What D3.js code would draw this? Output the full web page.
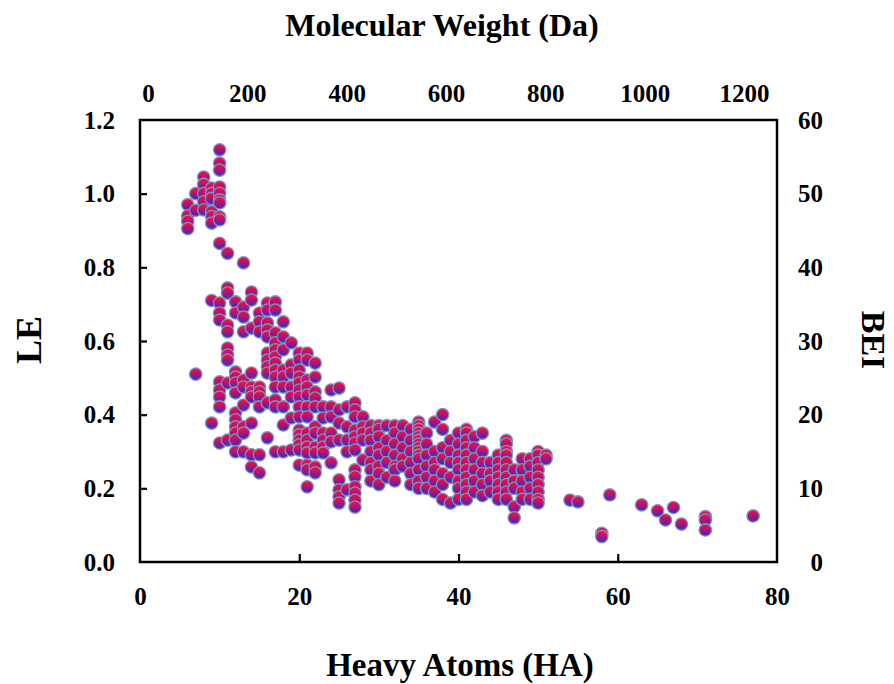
<!DOCTYPE html>
<html>
<head>
<meta charset="utf-8">
<script src="https://cdn.jsdelivr.net/npm/d3@7"></script>
<style>
  html, body { margin: 0; padding: 0; background: #fff; }
  svg { display: block; }
  text { font-family: "Liberation Serif", "Times New Roman", serif; font-weight: bold; fill: #000; }
</style>
</head>
<body>
<svg id="chart" width="894" height="684"></svg>
<script>
// Heavy-atom counts (one column of compounds per count)
const haColumns = [6, 7, 8, 9, 10, 11, 12, 13, 14, 15, 16, 17, 18, 19, 20, 21, 22, 23, 24, 25, 26, 27, 28,
  29, 30, 31, 32, 33, 34, 35, 36, 37, 38, 39, 40, 41, 42, 43, 44, 45, 46, 47, 48, 49, 50, 51,
  54, 55, 58, 59, 63, 65, 66, 67, 68, 71, 77];

// Ligand efficiency of each compound, grouped by heavy-atom count (same order as haColumns)
const leColumns = [
  [0.97, 0.94, 0.925, 0.905],
  [1.0, 0.955, 0.51],
  [1.045, 1.025, 1.0, 0.978, 0.956],
  [1.015, 1.0, 0.987, 0.951, 0.938, 0.92, 0.71, 0.377],
  [1.119, 1.083, 1.064, 1.018, 1.001, 0.983, 0.975, 0.937, 0.929, 0.865, 0.703, 0.676, 0.657, 0.489, 0.467, 0.448, 0.421, 0.323],
  [0.838, 0.744, 0.73, 0.643, 0.625, 0.581, 0.562, 0.548, 0.486, 0.331],
  [0.706, 0.676, 0.516, 0.502, 0.486, 0.459, 0.405, 0.386, 0.367, 0.35, 0.331, 0.299],
  [0.812, 0.692, 0.665, 0.625, 0.494, 0.475, 0.426, 0.367, 0.35, 0.299],
  [0.733, 0.711, 0.635, 0.513, 0.475, 0.462, 0.448, 0.377, 0.291, 0.258],
  [0.676, 0.652, 0.625, 0.475, 0.462, 0.448, 0.421, 0.291, 0.242],
  [0.703, 0.684, 0.649, 0.63, 0.611, 0.567, 0.548, 0.53, 0.513, 0.432, 0.337],
  [0.706, 0.684, 0.622, 0.595, 0.576, 0.557, 0.54, 0.521, 0.502, 0.475, 0.44, 0.421, 0.299],
  [0.652, 0.611, 0.576, 0.521, 0.502, 0.475, 0.421, 0.372, 0.299],
  [0.595, 0.535, 0.513, 0.475, 0.448, 0.391, 0.304],
  [0.567, 0.548, 0.521, 0.502, 0.486, 0.467, 0.448, 0.421, 0.394, 0.358, 0.345, 0.331, 0.318, 0.304, 0.263],
  [0.567, 0.548, 0.494, 0.475, 0.453, 0.421, 0.394, 0.35, 0.331, 0.312, 0.296, 0.263, 0.25, 0.204],
  [0.54, 0.502, 0.462, 0.445, 0.421, 0.367, 0.35, 0.312, 0.296, 0.258, 0.242],
  [0.421, 0.391, 0.35, 0.331, 0.312, 0.296],
  [0.467, 0.421, 0.394, 0.35, 0.326, 0.269],
  [0.472, 0.413, 0.377, 0.331, 0.223, 0.196, 0.177, 0.16],
  [0.421, 0.367, 0.331, 0.299, 0.196],
  [0.432, 0.413, 0.394, 0.358, 0.34, 0.323, 0.304, 0.25, 0.231, 0.204, 0.187, 0.168, 0.149],
  [0.394, 0.367, 0.35, 0.331, 0.277],
  [0.37, 0.35, 0.33, 0.30, 0.27, 0.25, 0.22],
  [0.37, 0.36, 0.34, 0.31, 0.29, 0.26, 0.24, 0.21],
  [0.37, 0.33, 0.30, 0.27, 0.23],
  [0.37, 0.35, 0.32, 0.29, 0.26, 0.25, 0.22],
  [0.37, 0.34, 0.31, 0.28, 0.26],
  [0.36, 0.33, 0.30, 0.27, 0.24, 0.21],
  [0.38, 0.37, 0.36, 0.35, 0.34, 0.33, 0.32, 0.31, 0.30, 0.29, 0.28, 0.25, 0.22, 0.20],
  [0.35, 0.32, 0.29, 0.26, 0.23, 0.20],
  [0.38, 0.30, 0.27, 0.25, 0.22, 0.19],
  [0.40, 0.36, 0.31, 0.28, 0.24, 0.21, 0.17],
  [0.33, 0.30, 0.27, 0.23, 0.16],
  [0.35, 0.32, 0.29, 0.27, 0.25, 0.22, 0.20, 0.17],
  [0.36, 0.35, 0.33, 0.31, 0.29, 0.27, 0.25, 0.23, 0.21, 0.19, 0.17],
  [0.34, 0.31, 0.28, 0.25, 0.22, 0.19],
  [0.35, 0.30, 0.27, 0.24, 0.21, 0.18],
  [0.27, 0.24, 0.22, 0.19],
  [0.29, 0.27, 0.25, 0.23, 0.21, 0.19, 0.17],
  [0.33, 0.32, 0.30, 0.29, 0.27, 0.25, 0.23, 0.21, 0.19, 0.17],
  [0.25, 0.22, 0.20, 0.15, 0.12],
  [0.28, 0.25, 0.22, 0.19, 0.17],
  [0.28, 0.26, 0.23, 0.20, 0.17],
  [0.30, 0.29, 0.27, 0.25, 0.23, 0.21, 0.19, 0.17, 0.16],
  [0.29, 0.28],
  [0.168],
  [0.163],
  [0.078, 0.069],
  [0.182],
  [0.155],
  [0.139],
  [0.114],
  [0.148],
  [0.103],
  [0.123, 0.114, 0.087],
  [0.125]
];

// Tick labels
const haTicks = [0, 20, 40, 60, 80];
const leTicks = [0, 0.2, 0.4, 0.6, 0.8, 1.0, 1.2];
const beiTicks = [0, 10, 20, 30, 40, 50, 60];
const mwTicks = [0, 200, 400, 600, 800, 1000, 1200];

// Flatten into one record per compound
const compounds = [];
haColumns.forEach((ha, i) => leColumns[i].forEach(le => compounds.push({ ha, le })));

const svg = d3.select("#chart");
const plot = { left: 140, right: 777, top: 120, bottom: 562 };

const x = d3.scaleLinear().domain([0, 80]).range([plot.left, plot.right]);
const y = d3.scaleLinear().domain([0, 1.2]).range([plot.bottom, plot.top]);
const bei = d3.scaleLinear().domain([0, 60]).range([plot.bottom, plot.top]);
const mw = d3.scaleLinear().domain([0, 1200]).range([148, 744]);

// Marker shading: red on top fading to violet-blue underneath
const defs = svg.append("defs");
const grad = defs.append("linearGradient")
  .attr("id", "ball").attr("x1", 0).attr("y1", 0).attr("x2", 0).attr("y2", 1);
grad.append("stop").attr("offset", "0%").attr("stop-color", "#ff0f2d");
grad.append("stop").attr("offset", "30%").attr("stop-color", "#d40f58");
grad.append("stop").attr("offset", "70%").attr("stop-color", "#7a1c9a");
grad.append("stop").attr("offset", "100%").attr("stop-color", "#3030c8");

// Frame
svg.append("rect")
  .attr("x", plot.left).attr("y", plot.top)
  .attr("width", plot.right - plot.left).attr("height", plot.bottom - plot.top)
  .attr("fill", "none").attr("stroke", "#000").attr("stroke-width", 2.5);

// Points
svg.append("g").selectAll("circle")
  .data(compounds)
  .join("circle")
  .attr("cx", d => x(d.ha))
  .attr("cy", d => y(d.le))
  .attr("r", 6.2)
  .attr("fill", "url(#ball)")
  .attr("stroke", "#7896cc")
  .attr("stroke-width", 1.3);

function styleAxis(g) {
  g.select(".domain").remove();
  g.selectAll(".tick line").attr("stroke", "#000").attr("stroke-width", 2.2);
  g.selectAll(".tick text")
    .style("font-family", "'Liberation Serif', 'Times New Roman', serif")
    .style("font-weight", "bold")
    .style("font-size", "25px")
    .attr("fill", "#000");
}

// Bottom axis: heavy atoms
svg.append("g")
  .attr("transform", `translate(0,${plot.bottom})`)
  .call(d3.axisBottom(x).tickValues(haTicks).tickSize(-8).tickPadding(25).tickFormat(d3.format("d")))
  .call(styleAxis)
  .call(g => g.selectAll(".tick line").filter(d => d === 0 || d === 80).remove());

// Left axis: LE
svg.append("g")
  .attr("transform", `translate(${plot.left},0)`)
  .call(d3.axisLeft(y).tickValues(leTicks).tickSize(-7).tickPadding(25).tickFormat(d3.format(".1f")))
  .call(styleAxis)
  .call(g => g.selectAll(".tick line").filter(d => d === 0 || d === 1.2).remove());

// Right axis: BEI
svg.append("g")
  .attr("transform", `translate(${plot.right},0)`)
  .call(d3.axisRight(bei).tickValues(beiTicks).tickSize(0).tickPadding(46).tickFormat(d3.format("d")))
  .call(styleAxis)
  .call(g => g.selectAll(".tick text").attr("text-anchor", "end"));

// Top axis: molecular weight
svg.append("g")
  .attr("transform", `translate(0,${plot.top})`)
  .call(d3.axisTop(mw).tickValues(mwTicks).tickSize(0).tickPadding(18).tickFormat(d3.format("d")))
  .call(styleAxis);

// Axis titles
svg.append("text")
  .attr("x", 442).attr("y", 36)
  .attr("text-anchor", "middle")
  .style("font-size", "32px")
  .text("Molecular Weight (Da)");

svg.append("text")
  .attr("x", 460).attr("y", 676)
  .attr("text-anchor", "middle")
  .style("font-size", "33px")
  .text("Heavy Atoms (HA)");

svg.append("text")
  .attr("transform", "translate(41,340) rotate(-90)")
  .attr("text-anchor", "middle")
  .style("font-size", "36px")
  .text("LE");

svg.append("text")
  .attr("transform", "translate(862,340) rotate(90)")
  .attr("text-anchor", "middle")
  .style("font-size", "34px")
  .text("BEI");
</script>
</body>
</html>
